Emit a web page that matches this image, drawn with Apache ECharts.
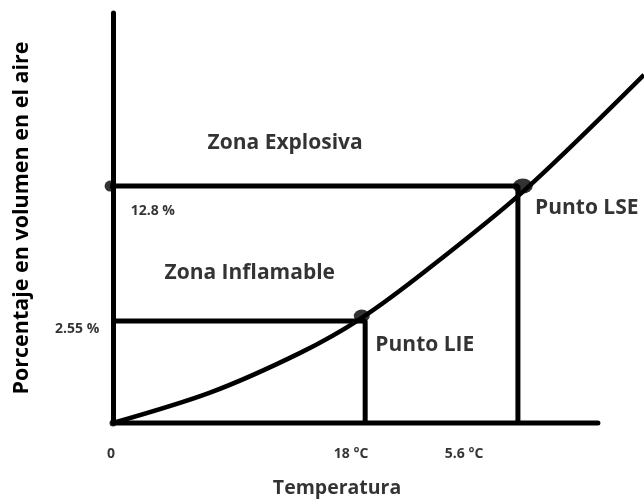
<!DOCTYPE html>
<html>
<head>
<meta charset="utf-8">
<script src="https://cdn.jsdelivr.net/npm/echarts@6/dist/echarts.min.js"></script>
<style>
  html, body { margin: 0; padding: 0; background: #fff; }
  #chart { width: 644px; height: 500px; }
</style>
</head>
<body>
<div id="chart"></div>
<script>
// curva de inflamabilidad (unidades arbitrarias del esquema)
var curveX = [0, 20, 38.6, 51, 64.7, 84.9, 109.5];
var curveY = [0, 7.4, 17.1, 25.4, 37.3, 56.8, 84.9];

// puntos LIE / LSE
var lieX = 51.3, lieY = 26.1, lieLineY = 24.9, lieLineX = 52;
var lseX = 84.5, lseY = 57.8, lseLineX = 83.5;
var xAxisEnd = 100;

// etiquetas de los ejes
var xTickLabels = ['0', '18 °C', '5.6 °C'];
var xTickAt = [-0.4, 49.1, 72.4];
var yTickLabels = ['12.8 %', '2.55 %'];
var yTickAtX = [8.2, -7.4];
var yTickAtY = [51.7, 22.9];
var xName = 'Temperatura';
var yName = 'Porcentaje en volumen en el aire';

// textos de zonas
var zoneNames = ['Zona Explosiva', 'Zona Inflamable', 'Punto LSE', 'Punto LIE'];
var zoneX = [35.5, 28.2, 97.7, 64.3];
var zoneY = [68.3, 36.6, 52.4, 19.0];

var font = 'Open Sans';

var curve = curveX.map(function (x, i) { return [x, curveY[i]]; });

var textData = [];
zoneNames.forEach(function (n, i) {
  textData.push({ value: [zoneX[i], zoneY[i]], name: n, label: { fontSize: 21 } });
});
yTickLabels.forEach(function (n, i) {
  textData.push({ value: [yTickAtX[i], yTickAtY[i]], name: n, label: { fontSize: 14 } });
});
xTickLabels.forEach(function (n, i) {
  textData.push({ value: [xTickAt[i], -7.6], name: n, label: { fontSize: 14 } });
});
textData.push({ value: [46.2, -15.9], name: xName, label: { fontSize: 19.5 } });

var myChart = echarts.init(document.getElementById('chart'));
myChart.setOption({
  backgroundColor: '#fff',
  animation: false,
  textStyle: { fontFamily: font, color: '#000' },
  grid: { left: 113, right: 0, top: 13, bottom: 77, containLabel: false, outerBoundsMode: 'none' },
  xAxis: {
    type: 'value', min: 0, max: 109.5,
    axisLine: { show: false },
    axisTick: { show: false }, axisLabel: { show: false }, splitLine: { show: false }
  },
  yAxis: {
    type: 'value', min: 0, max: 100,
    name: yName, nameLocation: 'middle', nameGap: 80,
    nameTextStyle: { fontFamily: font, fontSize: 21.5, fontWeight: 'bold', color: '#000' },
    axisLine: { show: true, lineStyle: { color: '#000', width: 5, cap: 'round' } },
    axisTick: { show: false }, axisLabel: { show: false }, splitLine: { show: false }
  },
  series: [
    {
      // eje de temperatura
      type: 'line', data: [[0, 0], [xAxisEnd, 0]],
      symbol: 'none', clip: false, silent: true,
      lineStyle: { color: '#000', width: 5, cap: 'round' }
    },
    {
      type: 'line', data: [[-0.6, lseY], [lseLineX, lseY], [lseLineX, 0]],
      symbol: 'none', clip: false, silent: true,
      lineStyle: { color: '#000', width: 5 }
    },
    {
      type: 'line', data: [[0, lieLineY], [lieLineX, lieLineY], [lieLineX, 0]],
      symbol: 'none', clip: false, silent: true,
      lineStyle: { color: '#000', width: 5 }
    },
    {
      type: 'line', data: curve, smooth: 0.3, symbol: 'none', clip: false,
      lineStyle: { color: '#000', width: 4.5 }
    },
    {
      type: 'scatter', clip: false,
      itemStyle: { color: '#000' },
      data: [
        { value: [lseX, lseY], symbolSize: [20, 15] },
        { value: [lieX, lieY], symbolSize: [16, 13] },
        { value: [-0.6, lseY], symbolSize: 11 },
        { value: [0, 0], symbolSize: 7 }
      ]
    },
    {
      type: 'scatter', clip: false, symbolSize: 0, silent: true,
      data: textData,
      label: {
        show: true, position: 'inside', formatter: '{b}',
        fontFamily: font, fontWeight: 'bold', color: '#000', textBorderWidth: 0
      }
    }
  ]
});
</script>
</body>
</html>
